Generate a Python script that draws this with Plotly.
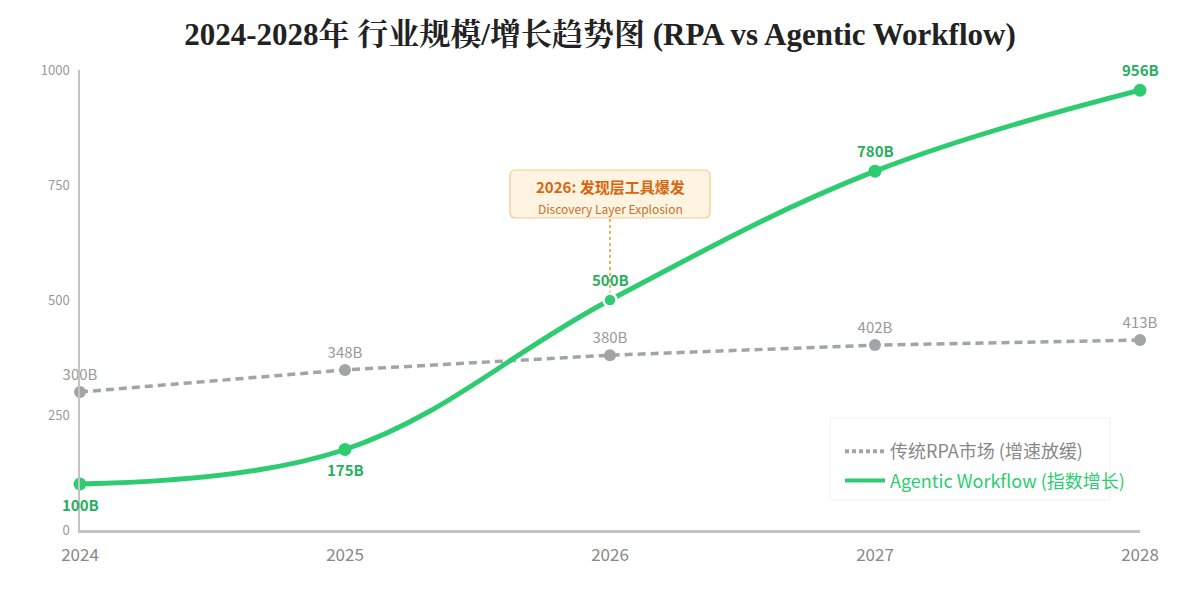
import plotly.graph_objects as go

years = [2024, 2025, 2026, 2027, 2028]
rpa_values = [300, 348, 380, 402, 413]
agentic_values = [100, 175, 500, 780, 956]
agentic_label_side = ["below", "below", "above", "above", "above"]
y_ticks = [0, 250, 500, 750, 1000]

title_text = "2024-2028年 行业规模/增长趋势图 (RPA vs Agentic Workflow)"
rpa_name = "传统RPA市场 (增速放缓)"
agentic_name = "Agentic Workflow (指数增长)"
callout_title = "2026: 发现层工具爆发"
callout_sub = "Discovery Layer Explosion"

FONT = "Noto Sans CJK SC, Noto Sans, sans-serif"
GREEN = "#2ecc71"
GREEN_TXT = "#27ae60"
GRAY = "#a0a6a6"
GRAY_TXT = "#999999"

W, H = 1200, 600
ML, MR, MT, MB = 80, 60, 70, 70
PW = W - ML - MR
PH = H - MT - MB

def px_x(p):
    return (p - ML) / PW

def px_y(p):
    return (H - MB - p) / PH

fig = go.Figure()

# data traces
fig.add_trace(go.Scatter(
    x=years, y=rpa_values, mode="lines+markers+text", showlegend=False,
    line=dict(color=GRAY, width=3.5, dash="8px,5px"),
    marker=dict(color=GRAY, size=12),
    text=[f"{v}B" for v in rpa_values], textposition="top center",
    textfont=dict(color=GRAY_TXT, size=15, family=FONT),
    cliponaxis=False,
))

fig.add_trace(go.Scatter(
    x=years, y=agentic_values, mode="lines+markers", showlegend=False,
    line=dict(color=GREEN, width=5, shape="spline", smoothing=1.1),
    marker=dict(color=GREEN, size=13,
                line=dict(color="white", width=[0, 0, 2.5, 0, 0])),
    cliponaxis=False,
))

# legend-only entries
fig.add_trace(go.Scatter(
    x=[None], y=[None], mode="lines", legendgroup="a",
    name=f"<span style='color:#888888'>{rpa_name}</span>",
    line=dict(color=GRAY, width=4, dash="4px,3px"),
))
fig.add_trace(go.Scatter(
    x=[None], y=[None], mode="lines", legendgroup="b",
    name=f"<span style='color:{GREEN}'>{agentic_name}</span>",
    line=dict(color=GREEN, width=4),
))

# callout box (rounded)
x0, x1 = px_x(510), px_x(710)
y0, y1 = px_y(218), px_y(170)
rx, ry = 6 / PW, 6 / PH
path = (f"M {x0+rx},{y0} L {x1-rx},{y0} Q {x1},{y0} {x1},{y0+ry} "
        f"L {x1},{y1-ry} Q {x1},{y1} {x1-rx},{y1} L {x0+rx},{y1} "
        f"Q {x0},{y1} {x0},{y1-ry} L {x0},{y0+ry} Q {x0},{y0} {x0+rx},{y0} Z")

lx0, lx1 = px_x(830), px_x(1110)
ly0, ly1 = px_y(500), px_y(418)

shapes = [
    dict(type="line", xref="x", yref="y", x0=years[2], x1=years[2],
         y0=agentic_values[2], y1=(H - MB - 218) / PH * 1000,
         line=dict(color="#e0a020", width=1.5, dash="dot"), layer="below"),
    dict(type="path", xref="paper", yref="paper", path=path,
         fillcolor="#fff4e2", line=dict(color="#f5c98a", width=1.2), layer="above"),
    dict(type="rect", xref="paper", yref="paper", x0=lx0, x1=lx1, y0=ly0, y1=ly1,
         fillcolor="rgba(255,255,255,0.9)", line=dict(color="#f0f0f0", width=1), layer="above"),
]

annotations = [
    dict(xref="paper", yref="paper", x=px_x(610), y=px_y(186), yanchor="middle",
         text=f"<b>{callout_title}</b>", showarrow=False,
         font=dict(color="#d9650f", size=15, family=FONT)),
    dict(xref="paper", yref="paper", x=px_x(610), y=px_y(208), yanchor="middle",
         text=callout_sub, showarrow=False,
         font=dict(color="#c8702a", size=12, family=FONT)),
]

for xv, yv, side in zip(years, agentic_values, agentic_label_side):
    annotations.append(dict(
        x=xv, y=yv, xref="x", yref="y", text=f"<b>{yv}B</b>", showarrow=False,
        yanchor="middle", yshift=(-20 if side == "below" else 21),
        font=dict(color=GREEN_TXT, size=15, family=FONT),
    ))

fig.update_layout(
    width=W, height=H,
    margin=dict(l=ML, r=MR, t=MT, b=MB),
    paper_bgcolor="white", plot_bgcolor="white",
    title=dict(text=f"<b>{title_text}</b>", x=0.5, xanchor="center", y=0.943, yanchor="middle",
               font=dict(family="Liberation Serif, Noto Serif CJK SC, serif", size=31, color="#222222")),
    font=dict(family=FONT),
    xaxis=dict(range=[years[0], years[-1]], tickvals=years, ticktext=[str(y) for y in years],
               showgrid=False, zeroline=False, showline=True, linecolor="#c4c4c4", linewidth=2.5,
               tickfont=dict(color="#888888", size=17, family=FONT), ticks="", ticklabelstandoff=8),
    yaxis=dict(range=[0, 1000], tickvals=y_ticks, showgrid=False, zeroline=False,
               showline=True, linecolor="#c4c4c4", linewidth=1.5,
               tickfont=dict(color="#999999", size=13, family=FONT), ticks="", ticklabelstandoff=6),
    legend=dict(x=px_x(840), y=px_y(433), xanchor="left", yanchor="top",
                bgcolor="rgba(0,0,0,0)", borderwidth=0,
                font=dict(size=18, family=FONT), itemwidth=40, tracegroupgap=3),
    shapes=shapes, annotations=annotations, showlegend=True,
)

fig.write_html("out.html")
